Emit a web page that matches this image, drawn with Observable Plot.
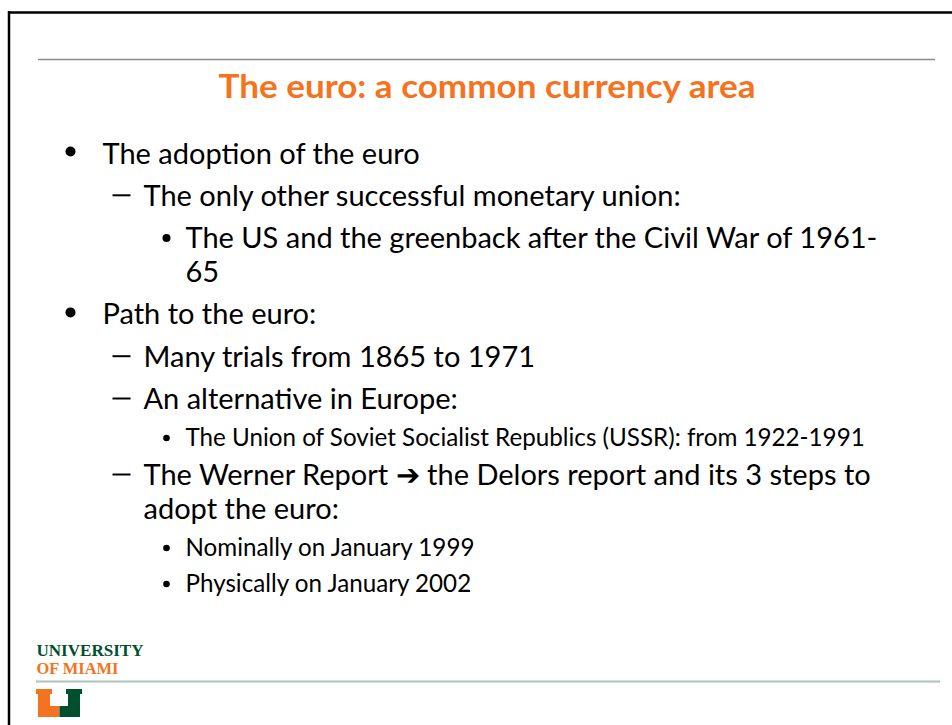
<!DOCTYPE html>
<html><head><meta charset="utf-8">
<script src="https://cdn.jsdelivr.net/npm/d3@7"></script>
<script src="https://cdn.jsdelivr.net/npm/@observablehq/plot@0.6"></script>
<style>html,body{margin:0;padding:0;background:#fff;overflow:hidden}</style>
</head><body><div id="chart"></div>
<script>
// ---------- DATA ----------
const title = "The euro: a common currency area";
const lines = [
  "The adoption of the euro",
  "The only other successful monetary union:",
  "The US and the greenback after the Civil War of 1961-",
  "65",
  "Path to the euro:",
  "Many trials from 1865 to 1971",
  "An alternative in Europe:",
  "The Union of Soviet Socialist Republics (USSR): from 1922-1991",
  "The Werner Report \u2794 the Delors report and its 3 steps to",
  "adopt the euro:",
  "Nominally on January 1999",
  "Physically on January 2002"
];
const levels = [1, 2, 3, 3, 1, 2, 2, 3, 2, 2, 3, 3];
const continuation = [false, false, false, true, false, false, false, false, false, true, false, false];
const logoLines = ["UNIVERSITY", "OF MIAMI"];

// ---------- LAYOUT / STYLE ----------
const W = 952, H = 725;
const smallRows = new Set([7, 10, 11]);
const textX = {1: 102, 2: 143, 3: 185};
const bulletX = {1: 70, 3: 166};
const bigSize = 29, smallSize = 24.2;
const orange = "#F47321", green = "#005030";

let yy = 163;
const rows = lines.map((text, i) => {
  if (i > 0) {
    const ps = smallRows.has(i - 1), cs = smallRows.has(i);
    yy += continuation[i] ? 34 : (ps && cs) ? 36 : cs ? 37 : ps ? 39 : 42.3;
  }
  return {text, level: levels[i], cont: continuation[i], small: smallRows.has(i), y: yy};
});

const bullets = rows.filter(r => !r.cont && r.level !== 2);
const dashes = rows.filter(r => !r.cont && r.level === 2);

const logo = logoLines.map((t, i) => ({text: t, y: 655 + i * 18, fill: i === 0 ? green : orange, len: i === 0 ? 107 : 82}));

const uParts = [
  {x1: 36, x2: 52, y1: 689, y2: 694, fill: orange},
  {x1: 38, x2: 50, y1: 689, y2: 717, fill: orange},
  {x1: 38, x2: 59.5, y1: 706, y2: 717, fill: orange},
  {x1: 66, x2: 82, y1: 689, y2: 694, fill: green},
  {x1: 68, x2: 80, y1: 689, y2: 717, fill: green},
  {x1: 59.5, x2: 80, y1: 706, y2: 717, fill: green}
];

const chart = Plot.plot({
  width: W, height: H,
  margin: 0,
  x: {domain: [0, W], range: [0, W], axis: null},
  y: {domain: [0, H], range: [0, H], axis: null},
  r: {type: "identity"},
  style: {background: "#fff"},
  marks: [
    // slide border
    Plot.ruleY([12], {x1: 8, x2: W, stroke: "#000", strokeWidth: 2.5}),
    Plot.ruleX([8.5], {y1: 11, y2: H, stroke: "#000", strokeWidth: 2.5}),
    // header rule
    Plot.ruleY([59], {x1: 38, x2: 935, stroke: "#8a8a8a", strokeWidth: 1.5}),
    // title
    Plot.text([title], {x: 218, y: 97, text: d => d, textAnchor: "start", lineAnchor: "bottom",
      fontFamily: "Lato", fontWeight: "bold", fontSize: 32.5, fill: orange, className: "slide-title"}),
    // bullets
    Plot.dot(bullets, {x: r => r.level === 1 ? bulletX[1] : bulletX[3],
      y: r => r.y - (r.level === 1 ? 12 : r.small ? 8 : 10),
      r: r => r.level === 1 ? 5 : r.small ? 3.3 : 4, fill: "#000", stroke: null}),
    Plot.link(dashes, {x1: 112, x2: 130, y1: r => r.y - 10.5, y2: r => r.y - 10.5, stroke: "#000", strokeWidth: 2}),
    // body text
    Plot.text(rows.filter(r => !r.small), {x: r => textX[r.level], y: "y", text: "text", textAnchor: "start",
      lineAnchor: "bottom", fontFamily: "Lato", fontSize: bigSize, fill: "#000"}),
    Plot.text(rows.filter(r => r.small), {x: r => textX[r.level], y: "y", text: "text", textAnchor: "start",
      lineAnchor: "bottom", fontFamily: "Lato", fontSize: smallSize, fill: "#000"}),
    // logo
    Plot.text(logo, {x: 36, y: "y", text: "text", fill: "fill", textAnchor: "start", lineAnchor: "bottom",
      fontFamily: "Liberation Serif", fontWeight: "bold", fontSize: 16, className: "logo-text"}),
    Plot.ruleY([681], {x1: 36, x2: 940, stroke: "#a9c5b8", strokeWidth: 2}),
    Plot.rect(uParts, {x1: "x1", x2: "x2", y1: "y1", y2: "y2", fill: "fill"})
  ]
});
document.getElementById("chart").appendChild(chart);
chart.querySelectorAll(".logo-text text").forEach((t, i) => {
  t.setAttribute("textLength", logo[i].len);
  t.setAttribute("lengthAdjust", "spacingAndGlyphs");
});
chart.querySelectorAll(".slide-title text").forEach(t => {
  t.setAttribute("textLength", 537);
  t.setAttribute("lengthAdjust", "spacingAndGlyphs");
});
</script>
</body></html>
